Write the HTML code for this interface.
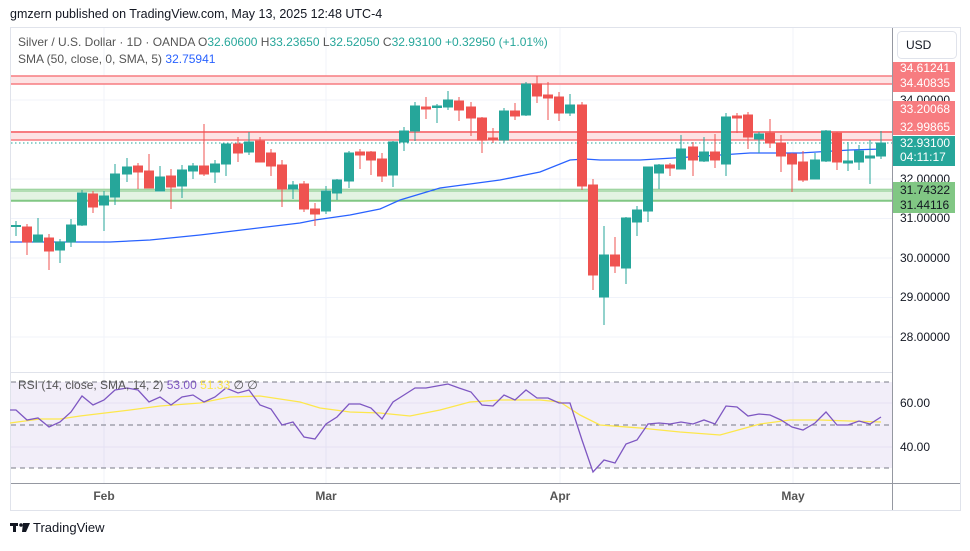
<!DOCTYPE html>
<html><head><meta charset="utf-8"><style>
body{margin:0;width:970px;height:546px;background:#fff;font-family:"Liberation Sans",sans-serif;overflow:hidden}
svg text{font-family:"Liberation Sans",sans-serif}
</style></head><body>
<svg width="970" height="546" viewBox="0 0 970 546">
<rect x="10.5" y="27.5" width="950" height="483" fill="#fff" stroke="#e0e3eb"/>
<text x="10" y="18" font-size="12.5" fill="#131722">gmzern published on TradingView.com, May 13, 2025 12:48 UTC-4</text>
<!-- grid -->
<g stroke="#f0f3fa" stroke-width="1">
<line x1="11" x2="892" y1="100" y2="100"/><line x1="11" x2="892" y1="139.5" y2="139.5"/><line x1="11" x2="892" y1="179" y2="179"/><line x1="11" x2="892" y1="218.5" y2="218.5"/><line x1="11" x2="892" y1="258" y2="258"/><line x1="11" x2="892" y1="297.5" y2="297.5"/><line x1="11" x2="892" y1="337" y2="337"/>
<line x1="104" x2="104" y1="28" y2="483"/><line x1="326" x2="326" y1="28" y2="483"/><line x1="560" x2="560" y1="28" y2="483"/><line x1="793" x2="793" y1="28" y2="483"/>
</g>
<line x1="892.5" x2="892.5" y1="28" y2="510" stroke="#9598a1"/>
<line x1="11" x2="892" y1="372.5" y2="372.5" stroke="#e0e3eb"/>
<line x1="11" x2="960" y1="483.5" y2="483.5" stroke="#9598a1"/>
<!-- zones -->
<rect x="11" y="76" width="881" height="8" fill="#fde3e4"/>
<line x1="11" x2="892" y1="76" y2="76" stroke="#f77c80" stroke-width="1.5"/>
<line x1="11" x2="892" y1="84" y2="84" stroke="#f77c80" stroke-width="1.5"/>
<rect x="11" y="131.5" width="881" height="8" fill="#fde3e4"/>
<line x1="11" x2="892" y1="132" y2="132" stroke="#f77c80" stroke-width="2"/>
<line x1="11" x2="892" y1="140" y2="140" stroke="#f77c80" stroke-width="1.5"/>
<rect x="11" y="190" width="881" height="11" fill="#e3f3e2"/>
<line x1="11" x2="892" y1="189.3" y2="189.3" stroke="#81c784" stroke-width="1"/>
<line x1="11" x2="892" y1="191" y2="191" stroke="#81c784" stroke-width="1"/>
<line x1="11" x2="892" y1="200.7" y2="200.7" stroke="#81c784" stroke-width="2"/>
<line x1="11" x2="892" y1="143" y2="143" stroke="#26a69a" stroke-dasharray="1.5,2.5"/>
<!-- SMA -->
<polyline fill="none" stroke="#2962ff" stroke-width="1.3" points="10,242 60,242 110,242 150,240 200,235 250,229 300,223 315,220 350,215 380,209 400,200 440,188 470,184 500,180 540,172 570,160 585,159 600,160 640,160 690,157 750,153 800,153 850,150 882,149"/>
<!-- candles -->
<g id="c">
<g stroke="#26a69a" fill="#26a69a"><line x1="16" x2="16" y1="221" y2="236"/><rect x="11.5" y="225.5" width="9" height="1"/></g>
<g stroke="#ef5350" fill="#ef5350"><line x1="27" x2="27" y1="224" y2="255"/><rect x="22.5" y="227" width="9" height="15"/></g>
<g stroke="#26a69a" fill="#26a69a"><line x1="38" x2="38" y1="218" y2="242"/><rect x="33.5" y="235" width="9" height="7"/></g>
<g stroke="#ef5350" fill="#ef5350"><line x1="49" x2="49" y1="234" y2="270"/><rect x="44.5" y="238" width="9" height="13"/></g>
<g stroke="#26a69a" fill="#26a69a"><line x1="60" x2="60" y1="239" y2="263"/><rect x="55.5" y="242" width="9" height="8"/></g>
<g stroke="#26a69a" fill="#26a69a"><line x1="71" x2="71" y1="219" y2="247"/><rect x="66.5" y="225" width="9" height="17"/></g>
<g stroke="#26a69a" fill="#26a69a"><line x1="82" x2="82" y1="190" y2="226"/><rect x="77.5" y="193" width="9" height="32"/></g>
<g stroke="#ef5350" fill="#ef5350"><line x1="93" x2="93" y1="191" y2="213"/><rect x="88.5" y="194" width="9" height="13"/></g>
<g stroke="#26a69a" fill="#26a69a"><line x1="104" x2="104" y1="191" y2="231"/><rect x="99.5" y="196" width="9" height="9"/></g>
<g stroke="#26a69a" fill="#26a69a"><line x1="115" x2="115" y1="164" y2="205"/><rect x="110.5" y="174" width="9" height="23"/></g>
<g stroke="#26a69a" fill="#26a69a"><line x1="127" x2="127" y1="158" y2="182"/><rect x="122.5" y="167" width="9" height="7"/></g>
<g stroke="#ef5350" fill="#ef5350"><line x1="138" x2="138" y1="163" y2="189"/><rect x="133.5" y="166" width="9" height="6"/></g>
<g stroke="#ef5350" fill="#ef5350"><line x1="149" x2="149" y1="154" y2="188"/><rect x="144.5" y="171" width="9" height="17"/></g>
<g stroke="#26a69a" fill="#26a69a"><line x1="160" x2="160" y1="166" y2="191"/><rect x="155.5" y="177" width="9" height="14"/></g>
<g stroke="#ef5350" fill="#ef5350"><line x1="171" x2="171" y1="169" y2="209"/><rect x="166.5" y="176" width="9" height="11"/></g>
<g stroke="#26a69a" fill="#26a69a"><line x1="182" x2="182" y1="165" y2="198"/><rect x="177.5" y="170" width="9" height="16"/></g>
<g stroke="#26a69a" fill="#26a69a"><line x1="193" x2="193" y1="163" y2="179"/><rect x="188.5" y="166" width="9" height="5"/></g>
<g stroke="#ef5350" fill="#ef5350"><line x1="204" x2="204" y1="124" y2="176"/><rect x="199.5" y="166" width="9" height="8"/></g>
<g stroke="#26a69a" fill="#26a69a"><line x1="215" x2="215" y1="160" y2="183"/><rect x="210.5" y="164" width="9" height="8"/></g>
<g stroke="#26a69a" fill="#26a69a"><line x1="226" x2="226" y1="144" y2="176"/><rect x="221.5" y="144" width="9" height="20"/></g>
<g stroke="#ef5350" fill="#ef5350"><line x1="238" x2="238" y1="137" y2="162"/><rect x="233.5" y="144" width="9" height="9"/></g>
<g stroke="#26a69a" fill="#26a69a"><line x1="249" x2="249" y1="132" y2="155"/><rect x="244.5" y="142" width="9" height="10"/></g>
<g stroke="#ef5350" fill="#ef5350"><line x1="260" x2="260" y1="137" y2="162"/><rect x="255.5" y="141" width="9" height="21"/></g>
<g stroke="#ef5350" fill="#ef5350"><line x1="271" x2="271" y1="149" y2="176"/><rect x="266.5" y="153" width="9" height="13"/></g>
<g stroke="#ef5350" fill="#ef5350"><line x1="282" x2="282" y1="160" y2="207"/><rect x="277.5" y="165" width="9" height="24"/></g>
<g stroke="#26a69a" fill="#26a69a"><line x1="293" x2="293" y1="181" y2="199"/><rect x="288.5" y="185" width="9" height="4"/></g>
<g stroke="#ef5350" fill="#ef5350"><line x1="304" x2="304" y1="181" y2="212"/><rect x="299.5" y="184" width="9" height="25"/></g>
<g stroke="#ef5350" fill="#ef5350"><line x1="315" x2="315" y1="203" y2="226"/><rect x="310.5" y="209" width="9" height="5"/></g>
<g stroke="#26a69a" fill="#26a69a"><line x1="326" x2="326" y1="186" y2="214"/><rect x="321.5" y="191" width="9" height="20"/></g>
<g stroke="#26a69a" fill="#26a69a"><line x1="337" x2="337" y1="179" y2="200"/><rect x="332.5" y="180" width="9" height="13"/></g>
<g stroke="#26a69a" fill="#26a69a"><line x1="349" x2="349" y1="151" y2="188"/><rect x="344.5" y="153" width="9" height="28"/></g>
<g stroke="#ef5350" fill="#ef5350"><line x1="360" x2="360" y1="149" y2="169"/><rect x="355.5" y="152" width="9" height="3"/></g>
<g stroke="#ef5350" fill="#ef5350"><line x1="371" x2="371" y1="151" y2="175"/><rect x="366.5" y="152" width="9" height="8"/></g>
<g stroke="#ef5350" fill="#ef5350"><line x1="382" x2="382" y1="153" y2="182"/><rect x="377.5" y="159" width="9" height="17"/></g>
<g stroke="#26a69a" fill="#26a69a"><line x1="393" x2="393" y1="141" y2="187"/><rect x="388.5" y="142" width="9" height="33"/></g>
<g stroke="#26a69a" fill="#26a69a"><line x1="404" x2="404" y1="127" y2="151"/><rect x="399.5" y="131" width="9" height="11"/></g>
<g stroke="#26a69a" fill="#26a69a"><line x1="415" x2="415" y1="102" y2="141"/><rect x="410.5" y="106" width="9" height="25"/></g>
<g stroke="#ef5350" fill="#ef5350"><line x1="426" x2="426" y1="97" y2="119"/><rect x="421.5" y="107" width="9" height="2"/></g>
<g stroke="#26a69a" fill="#26a69a"><line x1="437" x2="437" y1="104" y2="123"/><rect x="432.5" y="106" width="9" height="1.5"/></g>
<g stroke="#26a69a" fill="#26a69a"><line x1="448" x2="448" y1="91" y2="110"/><rect x="443.5" y="100" width="9" height="7"/></g>
<g stroke="#ef5350" fill="#ef5350"><line x1="459" x2="459" y1="97" y2="121"/><rect x="454.5" y="101" width="9" height="9"/></g>
<g stroke="#ef5350" fill="#ef5350"><line x1="471" x2="471" y1="102" y2="136"/><rect x="466.5" y="107" width="9" height="11"/></g>
<g stroke="#ef5350" fill="#ef5350"><line x1="482" x2="482" y1="117" y2="153"/><rect x="477.5" y="118" width="9" height="22"/></g>
<g stroke="#ef5350" fill="#ef5350"><line x1="493" x2="493" y1="128" y2="143"/><rect x="488.5" y="138" width="9" height="1.5"/></g>
<g stroke="#26a69a" fill="#26a69a"><line x1="504" x2="504" y1="108" y2="143"/><rect x="499.5" y="111" width="9" height="29"/></g>
<g stroke="#ef5350" fill="#ef5350"><line x1="515" x2="515" y1="103" y2="120"/><rect x="510.5" y="111" width="9" height="5"/></g>
<g stroke="#26a69a" fill="#26a69a"><line x1="526" x2="526" y1="82" y2="116"/><rect x="521.5" y="84" width="9" height="31"/></g>
<g stroke="#ef5350" fill="#ef5350"><line x1="537" x2="537" y1="76" y2="103"/><rect x="532.5" y="84" width="9" height="12"/></g>
<g stroke="#ef5350" fill="#ef5350"><line x1="548" x2="548" y1="82" y2="120"/><rect x="543.5" y="95" width="9" height="3"/></g>
<g stroke="#ef5350" fill="#ef5350"><line x1="559" x2="559" y1="92" y2="121"/><rect x="554.5" y="97" width="9" height="16"/></g>
<g stroke="#26a69a" fill="#26a69a"><line x1="570" x2="570" y1="94" y2="116"/><rect x="565.5" y="105" width="9" height="8"/></g>
<g stroke="#ef5350" fill="#ef5350"><line x1="582" x2="582" y1="102" y2="190"/><rect x="577.5" y="105" width="9" height="81"/></g>
<g stroke="#ef5350" fill="#ef5350"><line x1="593" x2="593" y1="179" y2="290"/><rect x="588.5" y="185" width="9" height="90"/></g>
<g stroke="#26a69a" fill="#26a69a"><line x1="604" x2="604" y1="226" y2="325"/><rect x="599.5" y="255" width="9" height="42"/></g>
<g stroke="#ef5350" fill="#ef5350"><line x1="615" x2="615" y1="237" y2="273"/><rect x="610.5" y="255" width="9" height="11"/></g>
<g stroke="#26a69a" fill="#26a69a"><line x1="626" x2="626" y1="217" y2="284"/><rect x="621.5" y="218" width="9" height="50"/></g>
<g stroke="#26a69a" fill="#26a69a"><line x1="637" x2="637" y1="206" y2="236"/><rect x="632.5" y="210" width="9" height="12"/></g>
<g stroke="#26a69a" fill="#26a69a"><line x1="648" x2="648" y1="167" y2="222"/><rect x="643.5" y="167" width="9" height="44"/></g>
<g stroke="#26a69a" fill="#26a69a"><line x1="659" x2="659" y1="164" y2="189"/><rect x="654.5" y="165" width="9" height="8"/></g>
<g stroke="#ef5350" fill="#ef5350"><line x1="670" x2="670" y1="163" y2="176"/><rect x="665.5" y="165" width="9" height="3"/></g>
<g stroke="#26a69a" fill="#26a69a"><line x1="681" x2="681" y1="135" y2="169"/><rect x="676.5" y="149" width="9" height="20"/></g>
<g stroke="#ef5350" fill="#ef5350"><line x1="693" x2="693" y1="142" y2="176"/><rect x="688.5" y="147" width="9" height="13"/></g>
<g stroke="#26a69a" fill="#26a69a"><line x1="704" x2="704" y1="137" y2="162"/><rect x="699.5" y="152" width="9" height="9"/></g>
<g stroke="#ef5350" fill="#ef5350"><line x1="715" x2="715" y1="134" y2="168"/><rect x="710.5" y="152" width="9" height="8"/></g>
<g stroke="#26a69a" fill="#26a69a"><line x1="726" x2="726" y1="113" y2="176"/><rect x="721.5" y="117" width="9" height="47"/></g>
<g stroke="#ef5350" fill="#ef5350"><line x1="737" x2="737" y1="113" y2="133"/><rect x="732.5" y="116" width="9" height="2"/></g>
<g stroke="#ef5350" fill="#ef5350"><line x1="748" x2="748" y1="112" y2="149"/><rect x="743.5" y="115" width="9" height="22"/></g>
<g stroke="#26a69a" fill="#26a69a"><line x1="759" x2="759" y1="132" y2="153"/><rect x="754.5" y="134" width="9" height="5"/></g>
<g stroke="#ef5350" fill="#ef5350"><line x1="770" x2="770" y1="119" y2="148"/><rect x="765.5" y="133" width="9" height="10"/></g>
<g stroke="#ef5350" fill="#ef5350"><line x1="781" x2="781" y1="135" y2="172"/><rect x="776.5" y="143" width="9" height="13"/></g>
<g stroke="#ef5350" fill="#ef5350"><line x1="792" x2="792" y1="153" y2="192"/><rect x="787.5" y="154" width="9" height="10"/></g>
<g stroke="#ef5350" fill="#ef5350"><line x1="803" x2="803" y1="151" y2="182"/><rect x="798.5" y="162" width="9" height="18"/></g>
<g stroke="#26a69a" fill="#26a69a"><line x1="815" x2="815" y1="153" y2="179"/><rect x="810.5" y="160" width="9" height="19"/></g>
<g stroke="#26a69a" fill="#26a69a"><line x1="826" x2="826" y1="130" y2="162"/><rect x="821.5" y="131" width="9" height="30"/></g>
<g stroke="#ef5350" fill="#ef5350"><line x1="837" x2="837" y1="132" y2="170"/><rect x="832.5" y="133" width="9" height="29"/></g>
<g stroke="#26a69a" fill="#26a69a"><line x1="848" x2="848" y1="142" y2="171"/><rect x="843.5" y="161" width="9" height="2"/></g>
<g stroke="#26a69a" fill="#26a69a"><line x1="859" x2="859" y1="145" y2="170"/><rect x="854.5" y="151" width="9" height="11"/></g>
<g stroke="#26a69a" fill="#26a69a"><line x1="870" x2="870" y1="140" y2="184"/><rect x="865.5" y="156" width="9" height="2"/></g>
<g stroke="#26a69a" fill="#26a69a"><line x1="881" x2="881" y1="131" y2="159"/><rect x="876.5" y="143" width="9" height="13"/></g>
</g>
<!-- legend -->
<text x="18" y="46" font-size="12" fill="#555"><tspan>Silver / U.S. Dollar · 1D · OANDA  O</tspan><tspan fill="#26a69a">32.60600</tspan><tspan>  H</tspan><tspan fill="#26a69a">33.23650</tspan><tspan>  L</tspan><tspan fill="#26a69a">32.52050</tspan><tspan>  C</tspan><tspan fill="#26a69a">32.93100  +0.32950 (+1.01%)</tspan></text>
<text x="18" y="63" font-size="12" fill="#555">SMA (50, close, 0, SMA, 5) <tspan fill="#2962ff">32.75941</tspan></text>
<!-- price axis -->
<rect x="897.5" y="31.5" width="59" height="27" rx="4" fill="#fff" stroke="#e0e3eb"/>
<text x="906" y="49" font-size="12" fill="#131722">USD</text>
<g font-size="12" fill="#131722">
<text x="900" y="104">34.00000</text><text x="900" y="183">32.00000</text><text x="900" y="222">31.00000</text><text x="900" y="262">30.00000</text><text x="900" y="301">29.00000</text><text x="900" y="341">28.00000</text>
</g>
<rect x="893" y="62" width="62" height="30" fill="#f77c80"/>
<rect x="893" y="101" width="62" height="34" fill="#f77c80"/>
<rect x="893" y="136" width="62" height="30" fill="#26a69a"/>
<rect x="893" y="182" width="62" height="31" fill="#81c784"/>
<g font-size="12" fill="#fff">
<text x="900" y="72">34.61241</text><text x="900" y="87">34.40835</text>
<text x="900" y="113">33.20068</text><text x="900" y="131">32.99865</text>
<text x="900" y="147">32.93100</text><text x="900" y="161">04:11:17</text>
</g>
<g font-size="12" fill="#131722"><text x="900" y="194">31.74322</text><text x="900" y="209">31.44116</text></g>
<!-- RSI -->
<rect x="11" y="382" width="881" height="86" fill="#7e57c2" fill-opacity="0.1"/>
<g stroke="#787b86" stroke-dasharray="5,4"><line x1="11" x2="892" y1="382" y2="382"/><line x1="11" x2="892" y1="425" y2="425"/><line x1="11" x2="892" y1="468" y2="468"/></g>
<g stroke="#e6e0f3"><line x1="11" x2="892" y1="403" y2="403"/><line x1="11" x2="892" y1="447" y2="447"/></g>
<polyline fill="none" stroke="#fde74c" stroke-width="1.3" points="10,423 40,419 60,419 80,416 105,413 130,410 160,406 200,403 230,397 260,396 300,402 320,408 350,412 380,413 410,416 440,410 470,402 500,400 540,400 560,402 580,415 600,425 640,428 680,432 720,435 760,424 790,420 820,420 850,421 881,422"/>
<polyline fill="none" stroke="#7e57c2" stroke-width="1.3" points="10,410 16,410 27,420 38,418 49,427 60,422 71,412 82,396 93,405 104,400 115,390 127,388 138,390 149,402 160,397 171,405 182,397 193,395 204,402 215,397 226,388 238,393 249,390 260,405 271,409 282,425 293,422 304,437 315,439 326,424 337,417 349,404 360,404 371,408 382,419 393,402 404,395 415,388 426,388 437,386 448,384 459,388 471,392 482,405 493,406 504,395 515,400 526,390 537,398 548,398 559,403 570,403 582,440 593,472 604,460 615,463 626,444 637,440 648,424 659,423 670,424 681,422 693,424 704,420 715,424 726,406 737,407 748,416 759,414 770,415 781,420 792,427 803,430 815,423 826,412 837,425 848,425 859,421 870,424 881,417"/>
<text x="18" y="389" font-size="12" fill="#555">RSI (14, close, SMA, 14, 2) <tspan fill="#7e57c2">53.00</tspan> <tspan fill="#fde74c">51.33</tspan>  ∅  ∅</text>
<g font-size="12" fill="#131722"><text x="900" y="407">60.00</text><text x="900" y="451">40.00</text></g>
<g font-size="12" fill="#555" font-weight="bold" text-anchor="middle"><text x="104" y="500">Feb</text><text x="326" y="500">Mar</text><text x="560" y="500">Apr</text><text x="793" y="500">May</text></g>
<!-- footer -->
<g fill="#131722"><rect x="10" y="523" width="8" height="3"/><rect x="13" y="523" width="3" height="9"/><circle cx="21" cy="525" r="1.8"/><path d="M23 523h7l-4 9h-4z"/></g>
<text x="33" y="532" font-size="13" fill="#131722">TradingView</text>
</svg>
</body></html>
